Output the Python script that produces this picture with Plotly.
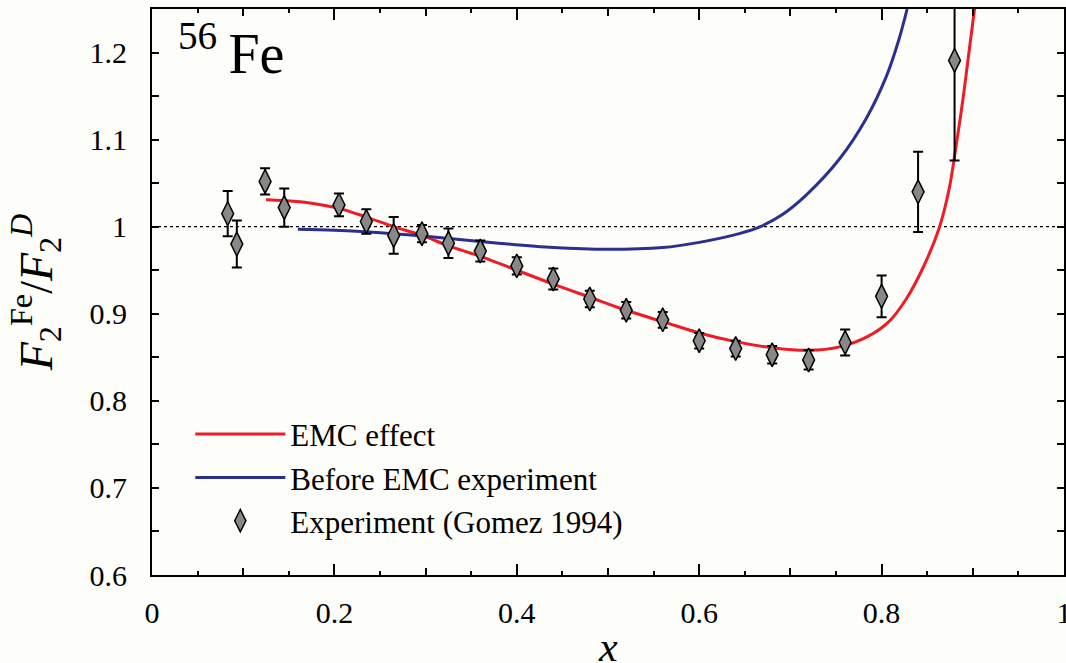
import plotly.graph_objects as go

# Experimental data (Gomez 1994)
exp_x = [0.083, 0.093, 0.124, 0.145, 0.205, 0.235, 0.265, 0.296, 0.325, 0.36,
         0.40, 0.44, 0.48, 0.52, 0.56, 0.60, 0.64, 0.68, 0.72, 0.76, 0.80, 0.84, 0.88]
exp_y = [1.015, 0.980, 1.052, 1.022, 1.025, 1.006, 0.990, 0.992, 0.981, 0.972,
         0.955, 0.940, 0.917, 0.904, 0.893, 0.869, 0.860, 0.853, 0.847, 0.867, 0.920, 1.040, 1.191]
exp_err = [0.026, 0.027, 0.015, 0.022, 0.013, 0.014, 0.021, 0.010, 0.017, 0.012,
           0.010, 0.012, 0.0095, 0.0095, 0.009, 0.009, 0.009, 0.010, 0.011, 0.015, 0.024, 0.046, 0.115]

# EMC effect curve
emc_x = [0.125, 0.145, 0.175, 0.205, 0.235, 0.265, 0.296, 0.325, 0.36, 0.40, 0.44, 0.48,
         0.52, 0.56, 0.60, 0.64, 0.68, 0.72, 0.754, 0.785, 0.808, 0.827, 0.845, 0.863,
         0.874, 0.881, 0.889, 0.896, 0.9025]
emc_y = [1.031, 1.030, 1.027, 1.021, 1.011, 1.000, 0.990, 0.978, 0.966, 0.950, 0.934, 0.919,
         0.904, 0.891, 0.878, 0.868, 0.861, 0.858, 0.862, 0.874, 0.891, 0.917, 0.952, 0.998,
         1.043, 1.088, 1.145, 1.202, 1.255]

# Before EMC experiment curve
pre_x = [0.16, 0.2, 0.265, 0.3, 0.38, 0.44, 0.5, 0.56, 0.6, 0.644, 0.667, 0.69,
         0.717, 0.754, 0.783, 0.805, 0.819, 0.828]
pre_y = [0.997, 0.996, 0.992, 0.989, 0.981, 0.976, 0.974, 0.976, 0.982, 0.992, 1.000, 1.013,
         1.036, 1.078, 1.124, 1.172, 1.215, 1.250]

ref_x = [0.0, 1.0]
ref_y = [1.0, 1.0]

x_major = [0, 0.2, 0.4, 0.6, 0.8, 1.0]
x_major_text = ["0", "0.2", "0.4", "0.6", "0.8", "1"]
x_mid = [0.1, 0.3, 0.5, 0.7, 0.9]
y_major = [0.6, 0.7, 0.8, 0.9, 1.0, 1.1, 1.2]
y_major_text = ["0.6", "0.7", "0.8", "0.9", "1", "1.1", "1.2"]

FONT = "Liberation Serif"
RED = "#ee1c25"
BLUE = "#2b3090"
BG = "#fdfdfa"

fig = go.Figure()

fig.add_trace(go.Scatter(x=ref_x, y=ref_y, mode="lines",
                         line=dict(color="black", width=1.2, dash="dot"),
                         showlegend=False, hoverinfo="skip"))
fig.add_trace(go.Scatter(x=emc_x, y=emc_y, mode="lines", name="EMC effect",
                         line=dict(color=RED, width=3, shape="spline", smoothing=1.0)))
fig.add_trace(go.Scatter(x=pre_x, y=pre_y, mode="lines", name="Before EMC experiment",
                         line=dict(color=BLUE, width=3, shape="spline", smoothing=0.9)))
fig.add_trace(go.Scatter(x=exp_x, y=exp_y, mode="markers", name="Experiment (Gomez 1994)",
                         marker=dict(symbol="diamond-tall", size=17, color="#888888",
                                     line=dict(color="black", width=1.5)),
                         error_y=dict(type="data", array=exp_err, visible=True,
                                      color="black", thickness=2, width=5)))
# empty traces binding the overlay axes (0.1 x ticks, y tick labels)
fig.add_trace(go.Scatter(x=[], y=[], xaxis="x2", yaxis="y", showlegend=False, hoverinfo="skip"))
fig.add_trace(go.Scatter(x=[], y=[], xaxis="x", yaxis="y2", showlegend=False, hoverinfo="skip"))

fig.add_annotation(x=0.026, y=0.995, xref="paper", yref="paper",
                   xanchor="left", yanchor="top", showarrow=False,
                   text="<sup>56</sup>\u2009Fe", font=dict(family=FONT, size=56, color="black"))
fig.add_annotation(x=0.5, y=-0.127, xref="paper", yref="paper",
                   xanchor="center", yanchor="middle", showarrow=False,
                   text="<i>x</i>", font=dict(family=FONT, size=42, color="black"))
fig.add_annotation(x=-0.128, y=0.5, xref="paper", yref="paper",
                   xanchor="center", yanchor="middle", showarrow=False, textangle=-90,
                   text="<i>F</i><sub>2</sub><sup>Fe</sup>/<i>F</i><sub>2</sub><sup><i>D</i></sup>",
                   font=dict(family=FONT, size=46, color="black"))

axis_common = dict(showline=True, linecolor="black", linewidth=2, mirror="ticks",
                   ticks="inside", tickcolor="black", tickwidth=1.5, showgrid=False,
                   zeroline=False, automargin=False,
                   tickfont=dict(family=FONT, size=30, color="black"))

fig.update_xaxes(range=[0, 1], tickvals=x_major, ticktext=x_major_text,
                 ticklen=11, ticklabelstandoff=10, ticklabeloverflow="allow",
                 minor=dict(dtick=0.05, ticks="inside", ticklen=4, tickcolor="black", tickwidth=1.5),
                 **axis_common)
fig.update_yaxes(range=[0.6, 1.25], tickvals=y_major, showticklabels=False, ticklen=7,
                 minor=dict(dtick=0.05, ticks="inside", ticklen=7, tickcolor="black", tickwidth=1.5),
                 **axis_common)

fig.update_layout(
    xaxis2=dict(overlaying="x", matches="x", range=[0, 1], side="bottom", tickvals=x_mid,
                ticks="inside", ticklen=7, tickwidth=1.5, tickcolor="black",
                showticklabels=False, showline=False, mirror="ticks", showgrid=False,
                zeroline=False, automargin=False),
    yaxis2=dict(overlaying="y", matches="y", range=[0.6, 1.25], side="left",
                tickvals=y_major, ticktext=y_major_text,
                ticks="outside", ticklen=18, tickcolor="rgba(0,0,0,0)",
                tickfont=dict(family=FONT, size=30, color="black"),
                showline=False, showgrid=False, zeroline=False, automargin=False),
    width=1066, height=663,
    margin=dict(l=152, r=2, t=9, b=88),
    paper_bgcolor=BG, plot_bgcolor=BG,
    font=dict(family=FONT, color="black"),
    legend=dict(x=0.042, y=0.296, xanchor="left", yanchor="top",
                bgcolor="rgba(0,0,0,0)", font=dict(family=FONT, size=31, color="black"),
                itemwidth=90, tracegroupgap=0),
)

fig.write_html(
    "out.html",
    config={"displayModeBar": False},
    post_script="document.body.style.margin='0';document.body.style.overflow='hidden';"
                "document.body.style.background='" + BG + "';",
)
